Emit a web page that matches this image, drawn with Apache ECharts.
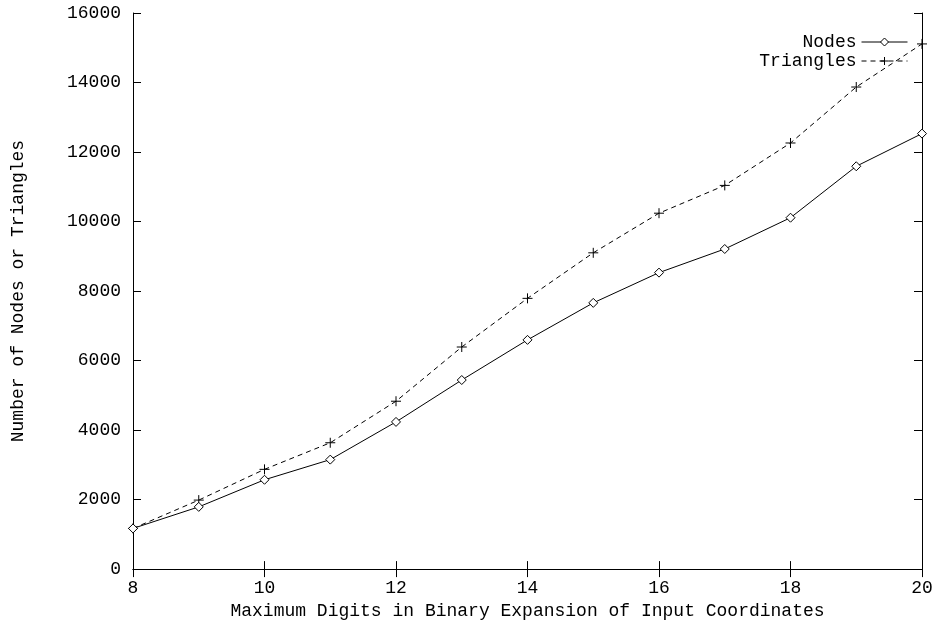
<!DOCTYPE html>
<html>
<head>
<meta charset="utf-8">
<script src="https://cdn.jsdelivr.net/npm/echarts@6/dist/echarts.min.js"></script>
<style>
  html, body { margin: 0; padding: 0; background: #fff; }
  #main { width: 938px; height: 625px; }
</style>
</head>
<body>
<div id="main"></div>
<script>
// binary digits on the x axis
var digits = [8, 9, 10, 11, 12, 13, 14, 15, 16, 17, 18, 19, 20];
var nodes = [1170, 1790, 2570, 3150, 4235, 5440, 6595, 7660, 8530, 9210, 10110, 11590, 12530];
var triangles = [1170, 1985, 2870, 3635, 4830, 6390, 7790, 9100, 10240, 11040, 12260, 13870, 15110];

var font = 'Liberation Mono';
var fs = 18;
var plus = 'path://M0,-1L0,1M-1,0L1,0';

function pairs(ys) {
    return digits.map(function (d, i) { return [d, ys[i]]; });
}

var chart = echarts.init(document.getElementById('main'));

var option = {
    backgroundColor: '#fff',
    animation: false,
    textStyle: { fontFamily: font, color: '#000' },
    grid: { left: 133, right: 16, top: 13, bottom: 53 },
    legend: {
        right: 25,
        top: 28,
        orient: 'vertical',
        align: 'right',
        itemWidth: 46,
        itemHeight: 10,
        itemGap: 1,
        lineStyle: { width: 1 },
        itemStyle: { borderWidth: 1 },
        textStyle: { fontFamily: font, fontSize: fs, lineHeight: 18, color: '#000' },
        data: ['Nodes', 'Triangles']
    },
    xAxis: [{
        type: 'value',
        min: 8, max: 20, interval: 2,
        name: 'Maximum Digits in Binary Expansion of Input Coordinates',
        nameLocation: 'middle',
        nameGap: 31,
        nameTextStyle: { fontFamily: font, fontSize: fs, color: '#000' },
        axisLine: { lineStyle: { color: '#000', width: 1 } },
        axisTick: { inside: true, length: 8, lineStyle: { color: '#000' } },
        axisLabel: { fontFamily: font, fontSize: fs, color: '#000', margin: 10 },
        splitLine: { show: false }
    }, {
        type: 'value',
        position: 'top',
        min: 8, max: 20, interval: 2,
        axisLine: { lineStyle: { color: '#000', width: 1 } },
        axisTick: { inside: true, length: 8, lineStyle: { color: '#000' } },
        axisLabel: { show: false },
        splitLine: { show: false }
    }],
    yAxis: [{
        type: 'value',
        min: 0, max: 16000, interval: 2000,
        name: 'Number of Nodes or Triangles',
        nameLocation: 'middle',
        nameGap: 106,
        nameTextStyle: { fontFamily: font, fontSize: fs, color: '#000' },
        axisLine: { show: true, lineStyle: { color: '#000', width: 1 } },
        axisTick: { show: true, inside: true, length: 8, lineStyle: { color: '#000' } },
        axisLabel: {
            fontFamily: font, fontSize: fs, color: '#000', margin: 12,
            formatter: function (v) { return String(v); }
        },
        splitLine: { show: false }
    }, {
        type: 'value',
        position: 'right',
        min: 0, max: 16000, interval: 2000,
        axisLine: { show: true, lineStyle: { color: '#000', width: 1 } },
        axisTick: { show: true, inside: true, length: 8, lineStyle: { color: '#000' } },
        axisLabel: { show: false },
        splitLine: { show: false }
    }],
    series: [{
        name: 'Nodes',
        type: 'line',
        data: pairs(nodes),
        symbol: 'diamond',
        symbolSize: 9,
        showAllSymbol: true,
        itemStyle: { color: '#fff', borderColor: '#000', borderWidth: 1 },
        lineStyle: { color: '#000', width: 1 },
        z: 3
    }, {
        name: 'Triangles',
        type: 'line',
        data: pairs(triangles),
        symbol: plus,
        symbolSize: 10,
        showAllSymbol: true,
        itemStyle: { color: 'none', borderColor: '#000', borderWidth: 1 },
        lineStyle: { color: '#000', width: 1, type: [5, 4] },
        z: 2
    }]
};

chart.setOption(option);
</script>
</body>
</html>
